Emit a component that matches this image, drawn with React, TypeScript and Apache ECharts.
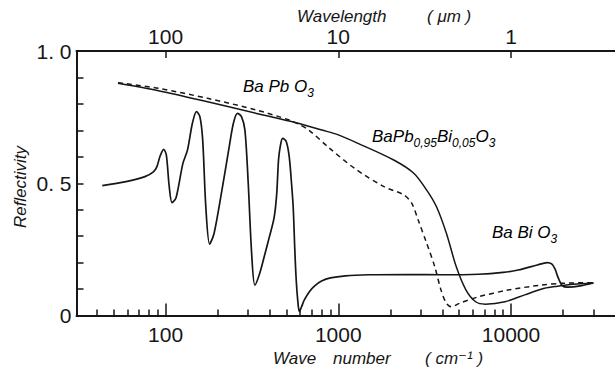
import React, { useEffect, useRef } from "react";
import * as echarts from "echarts";

// Reflectivity spectra as [wave number (cm^-1), reflectivity]
const baBiO3: [number, number][] = [
  [43, 0.491], [59, 0.506], [76, 0.525], [85, 0.543], [89, 0.562], [93, 0.603],
  [97.5, 0.628], [101, 0.607], [105, 0.487], [109, 0.427], [115, 0.445],
  [126, 0.575], [134, 0.626], [143, 0.727], [151, 0.771], [158, 0.752],
  [164, 0.664], [171, 0.411], [180, 0.27], [191, 0.311], [212, 0.474],
  [232, 0.626], [247, 0.727], [261, 0.764], [275, 0.752], [288, 0.701],
  [301, 0.5], [315, 0.235], [329, 0.115], [351, 0.16], [375, 0.23],
  [400, 0.3], [425, 0.37], [440, 0.46], [451, 0.59], [463, 0.645],
  [476, 0.67], [500, 0.657], [520, 0.6], [536, 0.5], [548, 0.411],
  [560, 0.25], [570, 0.14], [582, 0.06], [595, 0.015], [612, 0.032],
  [635, 0.058], [680, 0.09], [730, 0.112], [800, 0.13], [900, 0.142],
  [1100, 0.15], [1500, 0.154], [2500, 0.155], [4000, 0.154], [6500, 0.156],
  [9000, 0.163], [11000, 0.172], [14200, 0.191], [16200, 0.2], [17200, 0.195],
  [18000, 0.175], [18700, 0.145], [19800, 0.113], [21300, 0.107],
  [25200, 0.112], [30000, 0.124],
];

const baPb095Bi005O3: [number, number][] = [
  [53, 0.878], [91, 0.85], [175, 0.808], [336, 0.764], [568, 0.729],
  [804, 0.701], [1000, 0.683], [1300, 0.651], [2093, 0.588], [2736, 0.538],
  [3250, 0.474], [3703, 0.411], [4225, 0.311], [4816, 0.185], [5490, 0.096],
  [6240, 0.052], [7100, 0.043], [9230, 0.052], [12000, 0.078], [15600, 0.103],
  [18600, 0.111], [23000, 0.118], [30000, 0.122],
];

const baPbO3: [number, number][] = [
  [53, 0.88], [91, 0.859], [175, 0.821], [336, 0.777], [520, 0.739],
  [570, 0.728], [675, 0.701], [880, 0.635], [1250, 0.555], [1840, 0.487],
  [2396, 0.456], [2665, 0.424], [2900, 0.361], [3250, 0.273], [3616, 0.185],
  [3934, 0.096], [4225, 0.046], [4510, 0.033], [5021, 0.046], [6500, 0.071],
  [9600, 0.096], [14900, 0.115], [20000, 0.122], [30000, 0.124],
];

// Axis ticks and labels
const majorTicks = [100, 1000, 10000];
const waveNumberLabels = ["100", "1000", "10000"];
const wavelengthLabels = ["100", "10", "1"]; // μm at the same positions
const minorTicks = [
  40, 50, 60, 70, 80, 90, 200, 300, 400, 500, 600, 700, 800, 900,
  2000, 3000, 4000, 5000, 6000, 7000, 8000, 9000, 20000, 30000,
];
const reflectivityTicks = [0, 0.5, 1];
const reflectivityLabels = ["0", "0. 5", "1. 0"];

const FONT = "'Liberation Sans', 'DejaVu Sans', sans-serif";
const INK = "#161616";

const labelFor = (ticks: number[], labels: string[]) => (v: number) => {
  const i = ticks.findIndex((t) => Math.abs(t - v) / Math.max(1, t) < 1e-6);
  return i >= 0 ? labels[i] : "";
};

const chemRich = {
  m: { fontSize: 17, fontStyle: "italic", fontFamily: FONT, color: INK, lineHeight: 17, verticalAlign: "top" },
  s: { fontSize: 12, fontStyle: "italic", fontFamily: FONT, color: INK, lineHeight: 21, verticalAlign: "bottom" },
};

const italicText = (x: number, y: number, text: string, extra: any = {}) => ({
  type: "text",
  x,
  y,
  style: {
    text,
    fontSize: 17,
    fontStyle: "italic",
    fontFamily: FONT,
    fill: INK,
    verticalAlign: "middle",
    lineHeight: 15,
    ...extra,
  },
});

export default function App() {
  const ref = useRef<HTMLDivElement>(null);

  useEffect(() => {
    if (!ref.current) return;
    const chart = echarts.init(ref.current, undefined, { renderer: "svg" });
    const xRange = { min: 30.5, max: 40000 };
    const lineBase = { type: "line", showSymbol: false, symbol: "none", smooth: 0.3, z: 3 };

    chart.setOption({
      animation: false,
      backgroundColor: "#ffffff",
      grid: { left: 76.5, top: 51, bottom: 53.5, right: -10.3 },
      xAxis: [
        {
          type: "log",
          logBase: 10,
          position: "bottom",
          ...xRange,
          axisLine: { show: true, lineStyle: { color: INK, width: 2 } },
          axisTick: { show: true, inside: true, length: 12, customValues: majorTicks, lineStyle: { color: INK, width: 1.5 } },
          axisLabel: {
            show: true,
            customValues: majorTicks,
            formatter: labelFor(majorTicks, waveNumberLabels),
            fontSize: 21,
            fontFamily: FONT,
            color: INK,
            margin: 8,
          },
          splitLine: { show: false },
          minorSplitLine: { show: false },
        },
        {
          type: "log",
          logBase: 10,
          position: "top",
          ...xRange,
          axisLine: { show: true, lineStyle: { color: INK, width: 2 } },
          axisTick: { show: true, inside: true, length: 7, customValues: majorTicks, lineStyle: { color: INK, width: 1.5 } },
          axisLabel: {
            show: true,
            customValues: majorTicks,
            formatter: labelFor(majorTicks, wavelengthLabels),
            fontSize: 21,
            lineHeight: 16,
            fontFamily: FONT,
            color: INK,
            margin: 7,
          },
          splitLine: { show: false },
        },
        {
          type: "log",
          logBase: 10,
          position: "bottom",
          ...xRange,
          axisLine: { show: false },
          axisTick: { show: true, inside: true, length: 6, customValues: minorTicks, lineStyle: { color: INK, width: 1.5 } },
          axisLabel: { show: false },
          splitLine: { show: false },
        },
      ],
      yAxis: {
        type: "value",
        min: 0,
        max: 1,
        interval: 0.1,
        axisLine: { show: true, lineStyle: { color: INK, width: 2 } },
        axisTick: { show: true, inside: true, length: 7, lineStyle: { color: INK, width: 1.5 } },
        axisLabel: {
          show: true,
          formatter: labelFor(reflectivityTicks, reflectivityLabels),
          fontSize: 21,
          fontFamily: FONT,
          color: INK,
          margin: 5,
        },
        splitLine: { show: false },
      },
      series: [
        { ...lineBase, name: "BaBiO3", data: baBiO3, lineStyle: { color: INK, width: 1.7 } },
        { ...lineBase, name: "BaPb0.95Bi0.05O3", data: baPb095Bi005O3, lineStyle: { color: INK, width: 1.5 } },
        { ...lineBase, name: "BaPbO3", data: baPbO3, lineStyle: { color: INK, width: 1.5, type: [5, 4] } },
      ],
      graphic: [
        italicText(297, 16, "Wavelength"),
        italicText(427, 16, "( μm )"),
        italicText(273, 358, "Wave"),
        italicText(333, 358, "number"),
        italicText(425, 358, "( cm⁻¹ )"),
        {
          type: "text",
          x: 20,
          y: 187,
          rotation: Math.PI / 2,
          style: {
            text: "Reflectivity",
            fontSize: 17,
            fontStyle: "italic",
            fontFamily: FONT,
            fill: INK,
            align: "center",
            verticalAlign: "middle",
          },
        },
        {
          type: "text",
          x: 243,
          y: 78,
          style: { text: "{m|Ba Pb O}{s|3}", rich: chemRich },
        },
        {
          type: "text",
          x: 372,
          y: 128,
          style: { text: "{m|BaPb}{s|0,95}{m|Bi}{s|0,05}{m|O}{s|3}", rich: chemRich },
        },
        {
          type: "text",
          x: 492,
          y: 224,
          style: { text: "{m|Ba Bi O}{s|3}", rich: chemRich },
        },
      ],
    });

    return () => chart.dispose();
  }, []);

  return (
    <div
      ref={ref}
      style={{ position: "fixed", left: 0, top: 0, width: 615, height: 369, background: "#fff" }}
    />
  );
}
